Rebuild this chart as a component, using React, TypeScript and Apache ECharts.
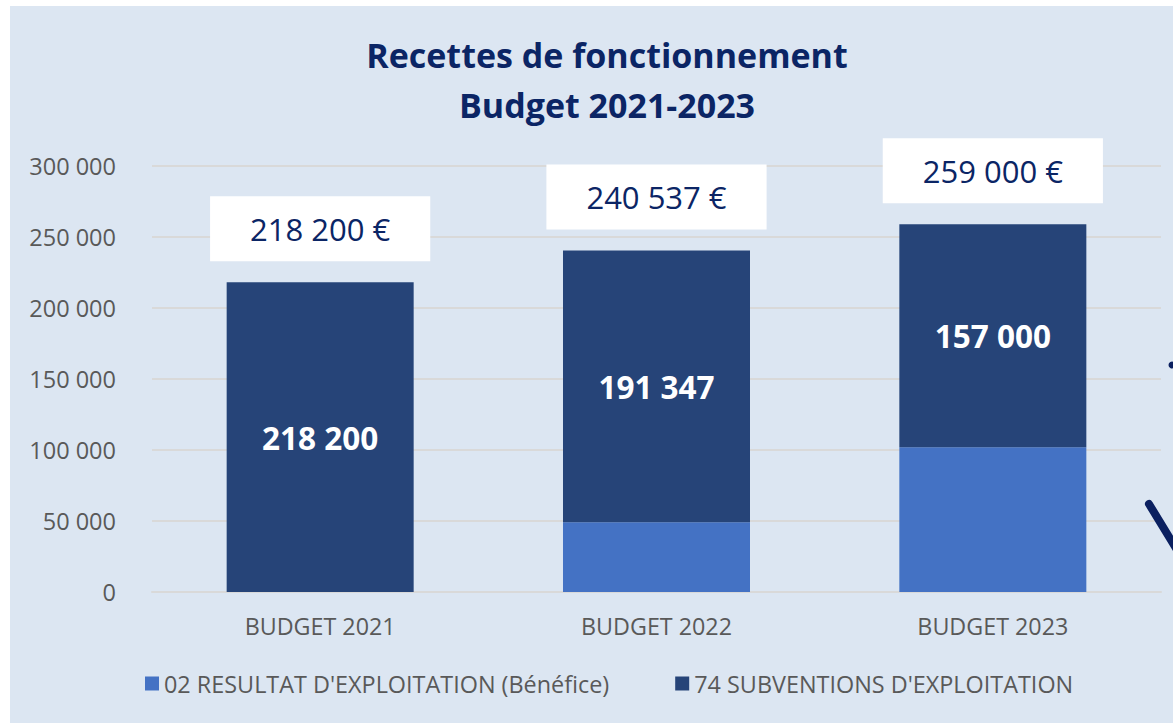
import React, { useEffect, useRef } from "react";
import * as echarts from "echarts";

const categories = ["BUDGET 2021", "BUDGET 2022", "BUDGET 2023"];
const resultatValues = [0, 49190, 102000];
const subventionValues = [218200, 191347, 157000];
const totals = [218200, 240537, 259000];
const yTicks = { min: 0, max: 300000, interval: 50000 };
const seriesNames = ["02 RESULTAT D'EXPLOITATION (Bénéfice)", "74 SUBVENTIONS D'EXPLOITATION"];

const fmt = (v: number) => String(v).replace(/\B(?=(\d{3})+(?!\d))/g, " ");

export default function App() {
  const ref = useRef<HTMLDivElement>(null);
  useEffect(() => {
    document.body.style.margin = "0";
    const chart = echarts.init(ref.current!, null, { renderer: "svg" });
    const font = "'Open Sans', sans-serif";
    chart.setOption({
      animation: false,
      backgroundColor: "#ffffff",
      textStyle: { fontFamily: font },
      graphic: [
        { type: "rect", z: -10, shape: { x: 10, y: 6, width: 1163, height: 717 }, style: { fill: "#dce6f2" } },
        { type: "circle", z: 100, shape: { cx: 1172, cy: 365, r: 3.5 }, style: { fill: "#0b2060" } },
        { type: "line", z: 100, shape: { x1: 1149, y1: 504, x2: 1177, y2: 550 }, style: { stroke: "#0b2060", lineWidth: 8, lineCap: "round" } },
      ],
      title: {
        text: "Recettes de fonctionnement\nBudget 2021-2023",
        left: 602,
        textAlign: "center",
        top: 25,
        textStyle: { fontFamily: font, fontWeight: "bold", fontSize: 34, lineHeight: 50, color: "#0b2565" },
      },
      legend: {
        data: seriesNames,
        bottom: 23,
        left: 140,
        itemWidth: 14,
        itemHeight: 14,
        itemGap: 66,
        icon: "rect",
        textStyle: { fontFamily: font, fontSize: 23.4, color: "#595959" },
      },
      grid: { left: 152, right: 12, top: 166, bottom: 131 },
      xAxis: {
        type: "category",
        data: categories,
        axisLine: { show: true, lineStyle: { color: "#d9d9d9", width: 2 } },
        axisTick: { show: false },
        axisLabel: { fontFamily: font, fontSize: 23.3, color: "#595959", margin: 22 },
      },
      yAxis: {
        type: "value",
        min: yTicks.min,
        max: yTicks.max,
        interval: yTicks.interval,
        axisLine: { show: false },
        axisTick: { show: false },
        splitLine: { lineStyle: { color: "#d9d9d9", width: 2 } },
        axisLabel: { fontFamily: font, fontSize: 23.5, color: "#595959", margin: 36, formatter: (v: number) => fmt(v) },
      },
      series: [
        {
          name: seriesNames[0],
          type: "bar",
          stack: "total",
          barWidth: "55.6%",
          data: resultatValues,
          itemStyle: { color: "#4472c4" },
        },
        {
          name: seriesNames[1],
          type: "bar",
          stack: "total",
          data: subventionValues,
          itemStyle: { color: "#264478" },
          label: {
            show: true,
            position: "inside",
            formatter: (p: any) => fmt(p.value),
            fontFamily: font,
            fontSize: 31.5,
            fontWeight: "bold",
            color: "#ffffff",
          },
        },
        {
          name: "total",
          type: "bar",
          stack: "total",
          data: totals.map(() => 0),
          itemStyle: { color: "transparent" },
          label: {
            show: true,
            position: "top",
            distance: 21,
            formatter: (p: any) => fmt(totals[p.dataIndex]) + " €",
            fontFamily: font,
            fontSize: 31,
            color: "#0b2565",
            backgroundColor: "#ffffff",
            padding: [17, 40, 17, 40],
          },
        },
      ],
    });
    return () => chart.dispose();
  }, []);
  return <div ref={ref} style={{ width: 1173, height: 723 }} />;
}
